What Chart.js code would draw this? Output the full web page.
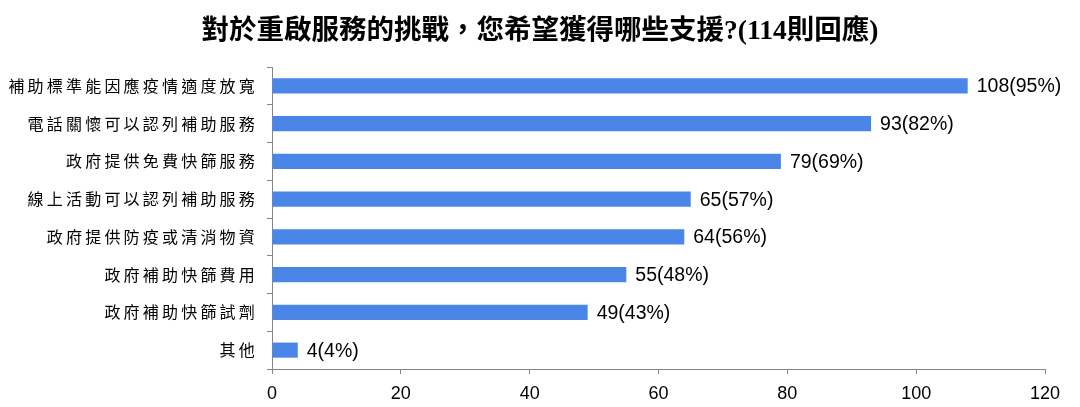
<!DOCTYPE html>
<html>
<head>
<meta charset="utf-8">
<script src="https://cdn.jsdelivr.net/npm/chart.js@4"></script>
<style>
  html, body { margin: 0; padding: 0; background: #fff; }
</style>
</head>
<body>
<canvas id="myChart" width="1080" height="407"></canvas>
<script>
var categories = [
  '補助標準能因應疫情適度放寬',
  '電話關懷可以認列補助服務',
  '政府提供免費快篩服務',
  '線上活動可以認列補助服務',
  '政府提供防疫或清消物資',
  '政府補助快篩費用',
  '政府補助快篩試劑',
  '其他'
];
var counts = [108, 93, 79, 65, 64, 55, 49, 4];
var percents = [95, 82, 69, 57, 56, 48, 43, 4];
var xMax = 120;
var xStep = 20;

// category scale whose labels get the wide MingLiU-like spacing
class SpacedCategory extends Chart.CategoryScale {
  drawLabels(area) {
    var ctx = this.ctx;
    ctx.save();
    ctx.letterSpacing = '3.2px';
    super.drawLabels(area);
    ctx.restore();
  }
}
SpacedCategory.id = 'spacedCategory';
SpacedCategory.defaults = Chart.CategoryScale.defaults;
Chart.register(SpacedCategory);

var valueLabels = {
  id: 'valueLabels',
  afterDatasetsDraw: function(chart) {
    var ctx = chart.ctx;
    var meta = chart.getDatasetMeta(0);
    ctx.save();
    ctx.font = '19.5px "Liberation Sans", Arial, sans-serif';
    ctx.fillStyle = '#000';
    ctx.textAlign = 'left';
    ctx.textBaseline = 'middle';
    meta.data.forEach(function(bar, i) {
      ctx.fillText(counts[i] + '(' + percents[i] + '%)', bar.x + 9, bar.y + 1);
    });
    ctx.restore();
  }
};

// centre the title over the whole canvas, not just inside the right padding
var fullWidthTitle = {
  id: 'fullWidthTitle',
  afterLayout: function(chart) {
    var t = chart.titleBlock;
    if (t) {
      t.left = 0;
      t.right = chart.width;
      t.width = chart.width;
    }
  }
};

var ctx = document.getElementById('myChart').getContext('2d');
var chart = new Chart(ctx, {
  type: 'bar',
  data: {
    labels: categories,
    datasets: [{
      data: counts,
      backgroundColor: '#4A86E8',
      borderWidth: 0,
      barPercentage: 0.4,
      categoryPercentage: 1.0
    }]
  },
  options: {
    indexAxis: 'y',
    responsive: false,
    animation: false,
    devicePixelRatio: 1,
    layout: {
      padding: { left: 0, right: 35, top: 0, bottom: 0 }
    },
    plugins: {
      legend: { display: false },
      tooltip: { enabled: false },
      title: {
        display: true,
        text: '對於重啟服務的挑戰，您希望獲得哪些支援?(114則回應)',
        color: '#000',
        font: { family: '"Liberation Serif", "Noto Sans CJK TC", serif', size: 27.5, weight: 'bold' },
        padding: { top: 15, bottom: 19 }
      }
    },
    scales: {
      x: {
        min: 0,
        max: xMax,
        ticks: {
          stepSize: xStep,
          color: '#000',
          font: { family: '"Liberation Sans", Arial, sans-serif', size: 18 },
          padding: 9
        },
        grid: { drawOnChartArea: false, drawTicks: true, tickLength: 5, color: '#868686' },
        border: { color: '#868686' },
        afterFit: function(scale) { scale.height = 38; }
      },
      y: {
        type: 'spacedCategory',
        ticks: {
          color: '#000',
          font: { family: '"Noto Sans CJK TC", sans-serif', size: 16 },
          padding: 9
        },
        grid: { drawOnChartArea: false, drawTicks: true, tickLength: 5, offset: true, color: '#868686' },
        border: { color: '#868686' },
        afterFit: function(scale) { scale.width = 272; }
      }
    }
  },
  plugins: [valueLabels, fullWidthTitle]
});
</script>
</body>
</html>
